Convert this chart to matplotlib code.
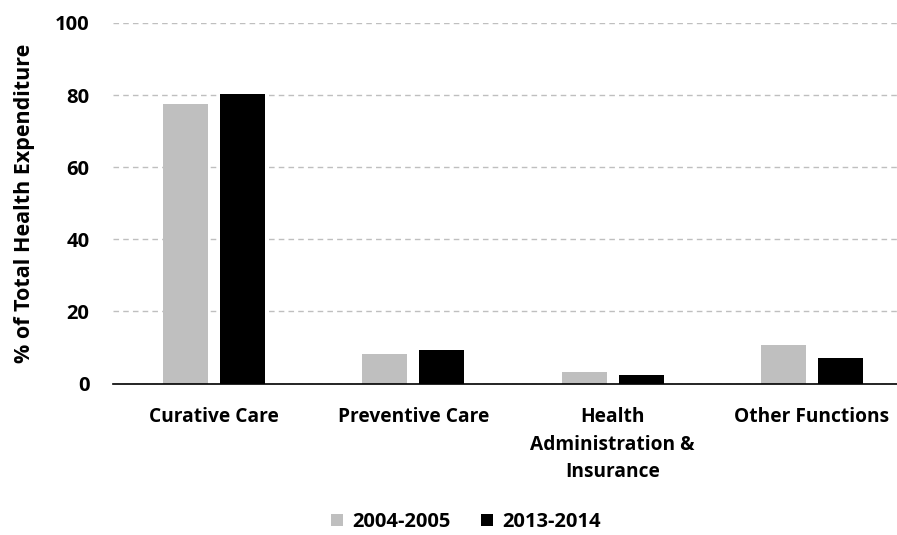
import numpy as np
import matplotlib.pyplot as plt

plt.rcParams['font.family'] = ['Open Sans', 'DejaVu Sans']
plt.rcParams['font.weight'] = 'bold'

# data
categories = ["Curative Care", "Preventive Care",
              "Health\nAdministration &\nInsurance", "Other Functions"]
series_names = ["2004-2005", "2013-2014"]
vals_2004 = [77.5, 8.1, 3.1, 10.6]
vals_2013 = [80.2, 9.3, 2.3, 7.0]
colors = ["#BFBFBF", "#000000"]
yticks = [0, 20, 40, 60, 80, 100]

fig = plt.figure(figsize=(8.97, 5.35), dpi=100)
ax = fig.add_axes([113 / 897, 1 - 383.5 / 535, 1 - 113 / 897, (383.5 - 23) / 535])

x = np.arange(len(categories))
w = 0.225
ax.bar(x - 0.143, vals_2004, w, color=colors[0], label=series_names[0], zorder=3)
ax.bar(x + 0.143, vals_2013, w, color=colors[1], label=series_names[1], zorder=3)

ax.set_xlim(-0.507, 3.427)
ax.set_ylim(0, 100)
ax.set_yticks(yticks)
ax.set_yticklabels([str(t) for t in yticks], fontsize=14.5, fontweight='bold')
ax.set_xticks(x)
ax.set_xticklabels(categories, fontsize=13.8, fontweight='bold', linespacing=1.5)
ax.tick_params(axis='y', length=0, pad=17)
ax.tick_params(axis='x', length=0, pad=17)

ax.yaxis.grid(True, color="#BFBFBF", linestyle=(0, (4, 3)), linewidth=1, zorder=0)
for s in ["top", "right", "left"]:
    ax.spines[s].set_visible(False)
ax.spines["bottom"].set_color("#000000")
ax.spines["bottom"].set_linewidth(1.2)
ax.spines["bottom"].set_zorder(4)

ax.set_ylabel("% of Total Health Expenditure", fontsize=15.5, fontweight='bold', labelpad=14)

fig.legend(loc="center", bbox_to_anchor=(466 / 897, 1 - 522 / 535), ncol=2,
           frameon=False, handlelength=0.6, handleheight=0.6,
           handletextpad=0.45, columnspacing=1.5, prop={'weight': 'bold', 'size': 14.5})

fig.savefig("out.png", dpi=100)
